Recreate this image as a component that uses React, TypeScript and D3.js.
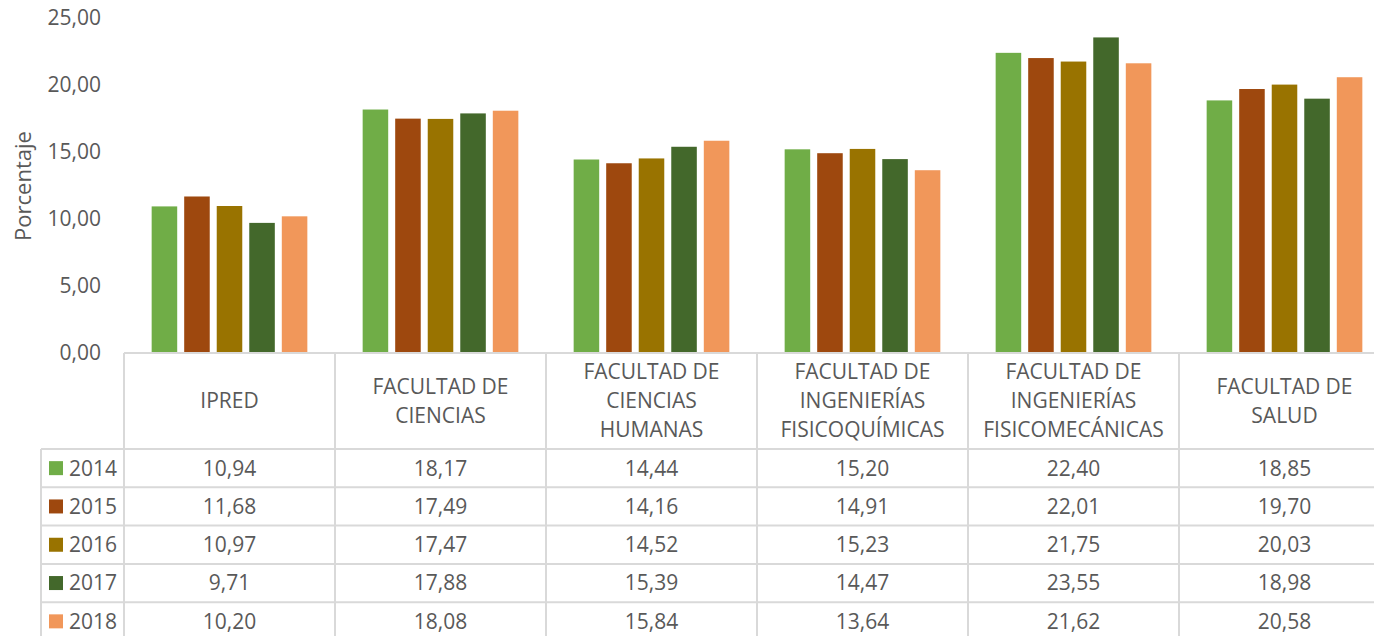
import React from "react";
import * as d3 from "d3";

const categories = [
  "IPRED",
  "FACULTAD DE\nCIENCIAS",
  "FACULTAD DE\nCIENCIAS\nHUMANAS",
  "FACULTAD DE\nINGENIERÍAS\nFISICOQUÍMICAS",
  "FACULTAD DE\nINGENIERÍAS\nFISICOMECÁNICAS",
  "FACULTAD DE\nSALUD",
];
const years = ["2014", "2015", "2016", "2017", "2018"];
const v2014 = [10.94, 18.17, 14.44, 15.2, 22.4, 18.85];
const v2015 = [11.68, 17.49, 14.16, 14.91, 22.01, 19.7];
const v2016 = [10.97, 17.47, 14.52, 15.23, 21.75, 20.03];
const v2017 = [9.71, 17.88, 15.39, 14.47, 23.55, 18.98];
const v2018 = [10.2, 18.08, 15.84, 13.64, 21.62, 20.58];
const series = [v2014, v2015, v2016, v2017, v2018];
const colors = ["#70AD47", "#9E480E", "#997300", "#43682B", "#F1975A"];
const yTicks = [0, 5, 10, 15, 20, 25];

const W = 1374;
const H = 636;
const plotLeft = 124;
const colW = 211;
const plotTop = 18;
const plotBottom = 353;
const headerBottom = 449;
const rowH = 38.3;
const legendLeft = 41;
const font = "'Open Sans', sans-serif";
const textColor = "#595959";
const gridColor = "#D9D9D9";
const fs = 21;

const fmt = (v: number) => v.toFixed(2).replace(".", ",");

export default function App() {
  const x0 = d3
    .scaleBand<string>()
    .domain(categories)
    .range([plotLeft, plotLeft + colW * categories.length])
    .padding(0);
  const x1 = d3
    .scaleBand<string>()
    .domain(years)
    .range([0, x0.bandwidth()])
    .paddingInner(0.215)
    .paddingOuter(0.85);
  const y = d3.scaleLinear().domain([0, 25]).range([plotBottom, plotTop]);
  const tableBottom = headerBottom + rowH * years.length;
  const right = plotLeft + colW * categories.length;

  return (
    <svg
      width={W}
      height={H}
      style={{ position: "absolute", left: 0, top: 0, background: "#fff" }}
      fontFamily={font}
    >
      {/* y ticks */}
      {yTicks.map((t) => (
        <text
          key={t}
          x={101}
          y={y(t)}
          dy="0.35em"
          textAnchor="end"
          fontSize={fs}
          fill={textColor}
        >
          {fmt(t)}
        </text>
      ))}
      <text
        transform={`translate(31,186) rotate(-90)`}
        textAnchor="middle"
        fontSize={22}
        fill={textColor}
      >
        Porcentaje
      </text>

      {/* bars */}
      {categories.map((c, ci) => (
        <g key={c} transform={`translate(${x0(c)},0)`}>
          {years.map((yr, si) => {
            const v = series[si][ci];
            return (
              <rect
                key={yr}
                x={x1(yr)}
                y={y(v)}
                width={x1.bandwidth()}
                height={y(0) - y(v)}
                fill={colors[si]}
              />
            );
          })}
        </g>
      ))}

      {/* table lines */}
      <g stroke={gridColor} strokeWidth={2} fill="none">
        <line x1={plotLeft} x2={right} y1={plotBottom} y2={plotBottom} />
        <line x1={legendLeft} x2={right} y1={headerBottom} y2={headerBottom} />
        {years.map((yr, i) => (
          <line
            key={yr}
            x1={legendLeft}
            x2={right}
            y1={headerBottom + rowH * (i + 1)}
            y2={headerBottom + rowH * (i + 1)}
          />
        ))}
        <line x1={legendLeft} x2={legendLeft} y1={headerBottom} y2={tableBottom} />
        {categories.map((c) => (
          <line key={c} x1={x0(c)} x2={x0(c)} y1={plotBottom} y2={tableBottom} />
        ))}
        <line x1={right} x2={right} y1={plotBottom} y2={tableBottom} />
      </g>

      {/* header labels */}
      {categories.map((c) => {
        const lines = c.split("\n");
        const cx = (x0(c) as number) + x0.bandwidth() / 2;
        const cy = (plotBottom + headerBottom) / 2;
        const lh = 29;
        return (
          <text key={c} textAnchor="middle" fontSize={fs} fill={textColor}>
            {lines.map((l, i) => (
              <tspan
                key={i}
                x={cx}
                y={cy + (i - (lines.length - 1) / 2) * lh}
                dy="0.35em"
              >
                {l}
              </tspan>
            ))}
          </text>
        );
      })}

      {/* legend + values */}
      {years.map((yr, si) => {
        const cy = headerBottom + rowH * si + rowH / 2;
        return (
          <g key={yr}>
            <rect x={49} y={cy - 7} width={14} height={14} fill={colors[si]} />
            <text x={69} y={cy} dy="0.35em" fontSize={fs} fill={textColor}>
              {yr}
            </text>
            {categories.map((c, ci) => (
              <text
                key={c}
                x={(x0(c) as number) + x0.bandwidth() / 2}
                y={cy}
                dy="0.35em"
                textAnchor="middle"
                fontSize={fs}
                fill={textColor}
              >
                {fmt(series[si][ci])}
              </text>
            ))}
          </g>
        );
      })}
    </svg>
  );
}
